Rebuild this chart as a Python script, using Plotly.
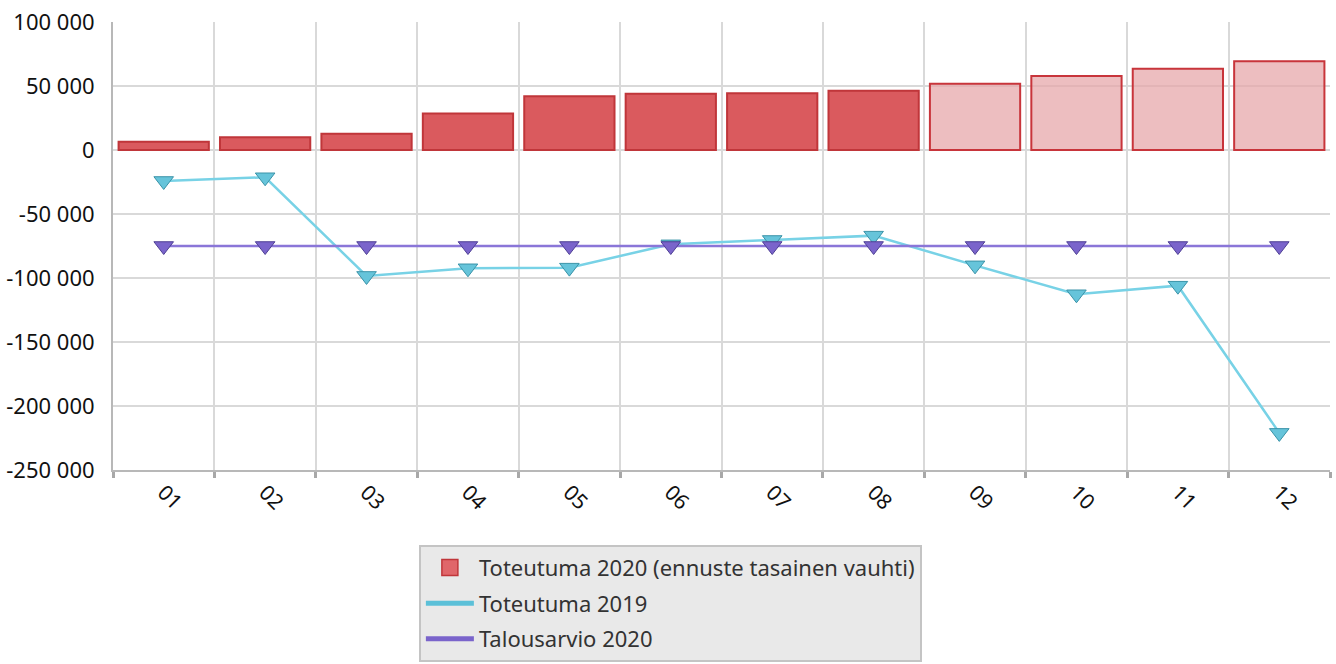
import plotly.graph_objects as go

months = ["01", "02", "03", "04", "05", "06", "07", "08", "09", "10", "11", "12"]
toteutuma_2020 = [6500, 9900, 12700, 28600, 41900, 44000, 44300, 46300, 51800, 57800, 63500, 69300]
is_forecast = [False] * 8 + [True] * 4
toteutuma_2019 = [-24200, -21300, -98400, -92400, -91900, -73700, -70300, -66900, -90100, -112700, -106000, -221000]
talousarvio_2020 = [-75000] * 12

y_tickvals = [100000, 50000, 0, -50000, -100000, -150000, -200000, -250000]
y_ticktext = ["100 000", "50 000", "0", "-50 000", "-100 000", "-150 000", "-200 000", "-250 000"]

FONT = "Noto Sans, Open Sans, sans-serif"

bar_fill = ["rgba(230,165,168,0.72)" if f else "#da5a5e" for f in is_forecast]
bar_line = ["#c8353b" if f else "#c0363a" for f in is_forecast]

fig = go.Figure()
fig.add_trace(go.Bar(
    x=months, y=toteutuma_2020, name="Toteutuma 2020 (ennuste tasainen vauhti)",
    marker=dict(color=bar_fill, line=dict(color=bar_line, width=2)),
    showlegend=False,
))
fig.add_trace(go.Scatter(
    x=months, y=toteutuma_2019, name="Toteutuma 2019", mode="lines+markers",
    line=dict(color="#78d2e6", width=2.5),
    marker=dict(symbol="triangle-down", size=17, color="#66c4da",
                line=dict(color="#3a93a8", width=1)),
    showlegend=False,
))
fig.add_trace(go.Scatter(
    x=months, y=talousarvio_2020, name="Talousarvio 2020", mode="lines+markers",
    line=dict(color="#8a76d8", width=2.5),
    marker=dict(symbol="triangle-down", size=17, color="#7a64cb",
                line=dict(color="#4e3f95", width=1)),
    showlegend=False,
))

# legend entries (styled like the reference legend)
fig.add_trace(go.Scatter(
    x=[None], y=[None], mode="markers", name="Toteutuma 2020 (ennuste tasainen vauhti)",
    marker=dict(symbol="square", size=16, color="#e0666a", line=dict(color="#c0363a", width=1.5)),
    legendgroup="a",
))
fig.add_trace(go.Scatter(
    x=[None], y=[None], mode="lines", name="Toteutuma 2019",
    line=dict(color="#5cc0d8", width=5), legendgroup="b",
))
fig.add_trace(go.Scatter(
    x=[None], y=[None], mode="lines", name="Talousarvio 2020",
    line=dict(color="#7a64cb", width=5), legendgroup="c",
))

fig.update_layout(
    width=1336, height=664,
    margin=dict(l=113, r=6, t=22, b=194, autoexpand=False),
    paper_bgcolor="white", plot_bgcolor="white",
    font=dict(family=FONT, size=21, color="#1a1a1a"),
    bargap=0.11,
    showlegend=True,
    legend=dict(
        x=0.458, xanchor="center", y=-0.167, yanchor="top",
        bgcolor="#e9e9e9", bordercolor="#c4c4c4", borderwidth=2,
        font=dict(family=FONT, size=22, color="#333333"),
        tracegroupgap=4, traceorder="grouped", itemwidth=48,
    ),
)
fig.update_yaxes(
    range=[-250000, 100000], tickvals=y_tickvals, ticktext=y_ticktext,
    showgrid=True, gridcolor="#d9d9d9", gridwidth=1.5, zeroline=False,
    showline=True, linecolor="#b8b8b8", linewidth=2, automargin=False,
    ticks="", ticklabelstandoff=12, ticklabeloverflow="allow",
    tickfont=dict(size=22, color="#111111"),
)
fig.update_xaxes(
    type="category", tickson="boundaries", tickangle=45, range=[-0.5, 11.5],
    showgrid=True, gridcolor="#d9d9d9", gridwidth=1.5, automargin=False,
    showline=True, linecolor="#b8b8b8", linewidth=2,
    ticks="outside", ticklen=6, tickwidth=3, tickcolor="#a8a8a8",
    tickfont=dict(size=21, color="#111111"),
)

fig.write_html(
    "out.html",
    config={"displayModeBar": False},
    post_script="document.body.style.margin='0';document.body.style.overflow='hidden';",
)
